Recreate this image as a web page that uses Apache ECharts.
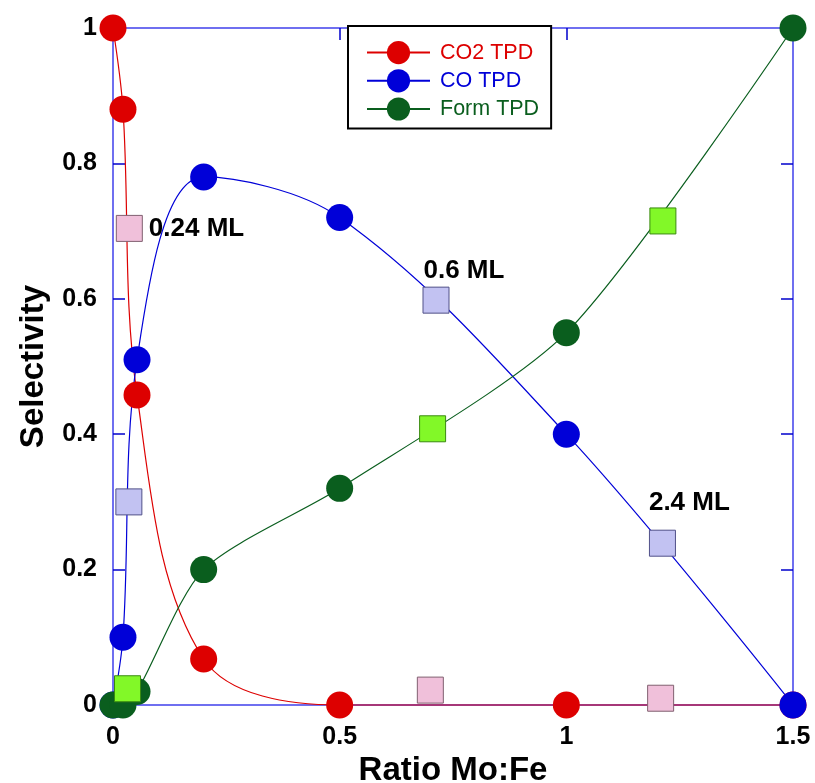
<!DOCTYPE html>
<html>
<head>
<meta charset="utf-8">
<script src="https://cdn.jsdelivr.net/npm/echarts@6/dist/echarts.min.js"></script>
<style>
html,body{margin:0;padding:0;background:#fff;}
#chart{width:815px;height:783px;}
</style>
</head>
<body>
<div id="chart"></div>
<script>
// ---- data ----
const seriesNames = ['CO2 TPD', 'CO TPD', 'Form TPD'];
const co2X = [0, 0.022, 0.053, 0.2, 0.5, 1, 1.5];
const co2Y = [1, 0.88, 0.458, 0.068, 0, 0, 0];
const coX = [0, 0.022, 0.053, 0.2, 0.5, 1, 1.5];
const coY = [0, 0.1, 0.51, 0.78, 0.72, 0.4, 0];
const formX = [0, 0.022, 0.053, 0.2, 0.5, 1, 1.5];
const formY = [0, 0, 0.02, 0.2, 0.32, 0.55, 1];
// coverage squares
const pinkX = [0.036, 0.70, 1.208];
const pinkY = [0.704, 0.022, 0.010];
const lavX = [0.035, 0.7125, 1.212];
const lavY = [0.30, 0.598, 0.239];
const limeX = [0.032, 0.705, 1.213];
const limeY = [0.024, 0.408, 0.715];
const coverageLabels = ['0.24 ML', '0.6 ML', '2.4 ML'];
const xTicks = [0, 0.5, 1, 1.5];
const yTicks = [0, 0.2, 0.4, 0.6, 0.8, 1];
const xTitle = 'Ratio Mo:Fe';
const yTitle = 'Selectivity';

const FONT = '"Liberation Sans", Arial, Helvetica, sans-serif';
const zip = (xs, ys) => xs.map((x, i) => [x, ys[i]]);

const lineColors = ['#dd0000', '#0000d8', '#0a5e1e'];
const frameColor = '#6f6ff0';
const tickColor = '#0000cc';

function lineSeries(name, xs, ys, color, smooth) {
  return {
    name: name, type: 'line', data: zip(xs, ys),
    smooth: smooth, clip: false,
    symbol: 'circle', symbolSize: 27,
    itemStyle: { color: color, opacity: 1 },
    lineStyle: { color: color, width: 1.2 },
    emphasis: { disabled: true },
    z: 3
  };
}

const labelStyle = { show: true, color: '#000', fontFamily: FONT, fontWeight: 'bold', fontSize: 26, opacity: 1 };

function squareSeries(xs, ys, fill, border, labels) {
  return {
    type: 'scatter', symbol: 'rect', symbolSize: 26, clip: false,
    itemStyle: { color: fill, borderColor: border, borderWidth: 1, opacity: 1 },
    emphasis: { disabled: true },
    z: 4,
    data: xs.map((x, i) => {
      const item = { value: [x, ys[i]] };
      if (labels && labels[i]) item.label = Object.assign({}, labelStyle, labels[i]);
      return item;
    })
  };
}

const axisCommon = {
  type: 'value', axisLine: { show: true, onZero: false, lineStyle: { color: frameColor, width: 2 } },
  axisTick: { show: true, inside: true, length: 12, lineStyle: { color: tickColor, width: 1.5 } },
  splitLine: { show: false }
};

const option = {
  animation: false,
  backgroundColor: '#ffffff',
  grid: { left: 113, right: 22, top: 28, bottom: 78, containLabel: false, outerBoundsMode: 'none' },
  legend: {
    left: 348, top: 26,
    orient: 'vertical',
    padding: [15, 12, 8, 18],
    itemWidth: 63, itemHeight: 29, itemGap: 5,
    borderColor: '#000', borderWidth: 2, backgroundColor: '#fff',
    textStyle: { fontFamily: FONT, fontSize: 21.5, padding: [0, 0, 0, 5] },
    data: seriesNames.map((n, i) => ({ name: n, textStyle: { color: lineColors[i] } })),
    selectedMode: false
  },
  xAxis: [
    Object.assign({}, axisCommon, {
      min: xTicks[0], max: xTicks[xTicks.length - 1], interval: 0.5, position: 'bottom',
      axisLabel: { show: true, margin: 20, color: '#000', fontFamily: FONT, fontWeight: 'bold', fontSize: 25 },
      name: xTitle, nameLocation: 'middle', nameGap: 44,
      nameTextStyle: { color: '#000', fontFamily: FONT, fontWeight: 'bold', fontSize: 33 }
    }),
    Object.assign({}, axisCommon, {
      min: xTicks[0], max: xTicks[xTicks.length - 1], interval: 0.5, position: 'top',
      axisLabel: { show: false }
    })
  ],
  yAxis: [
    Object.assign({}, axisCommon, {
      min: yTicks[0], max: yTicks[yTicks.length - 1], interval: 0.2, position: 'left',
      axisLabel: { show: true, margin: 16, color: '#000', fontFamily: FONT, fontWeight: 'bold', fontSize: 25 },
      name: yTitle, nameLocation: 'middle', nameGap: 63,
      nameTextStyle: { color: '#000', fontFamily: FONT, fontWeight: 'bold', fontSize: 33 }
    }),
    Object.assign({}, axisCommon, {
      min: yTicks[0], max: yTicks[yTicks.length - 1], interval: 0.2, position: 'right',
      axisLabel: { show: false }
    })
  ],
  series: [
    lineSeries(seriesNames[0], co2X, co2Y, lineColors[0], 0.35),
    lineSeries(seriesNames[1], coX, coY, lineColors[1], 0.35),
    lineSeries(seriesNames[2], formX, formY, lineColors[2], 0.25),
    squareSeries(pinkX, pinkY, '#f0c0da', '#806070', [
      { formatter: coverageLabels[0], position: 'right', distance: 6 }, null, null
    ]),
    squareSeries(lavX, lavY, '#c2c2f2', '#505088', [
      null,
      { formatter: coverageLabels[1], position: [1, -16], align: 'left', verticalAlign: 'middle' },
      { formatter: coverageLabels[2], position: [0, -27], align: 'left', verticalAlign: 'middle' }
    ]),
    squareSeries(limeX, limeY, '#82f828', '#3a8a10', null)
  ]
};

const chart = echarts.init(document.getElementById('chart'), null, { renderer: 'canvas' });
chart.setOption(option);
</script>
</body>
</html>
